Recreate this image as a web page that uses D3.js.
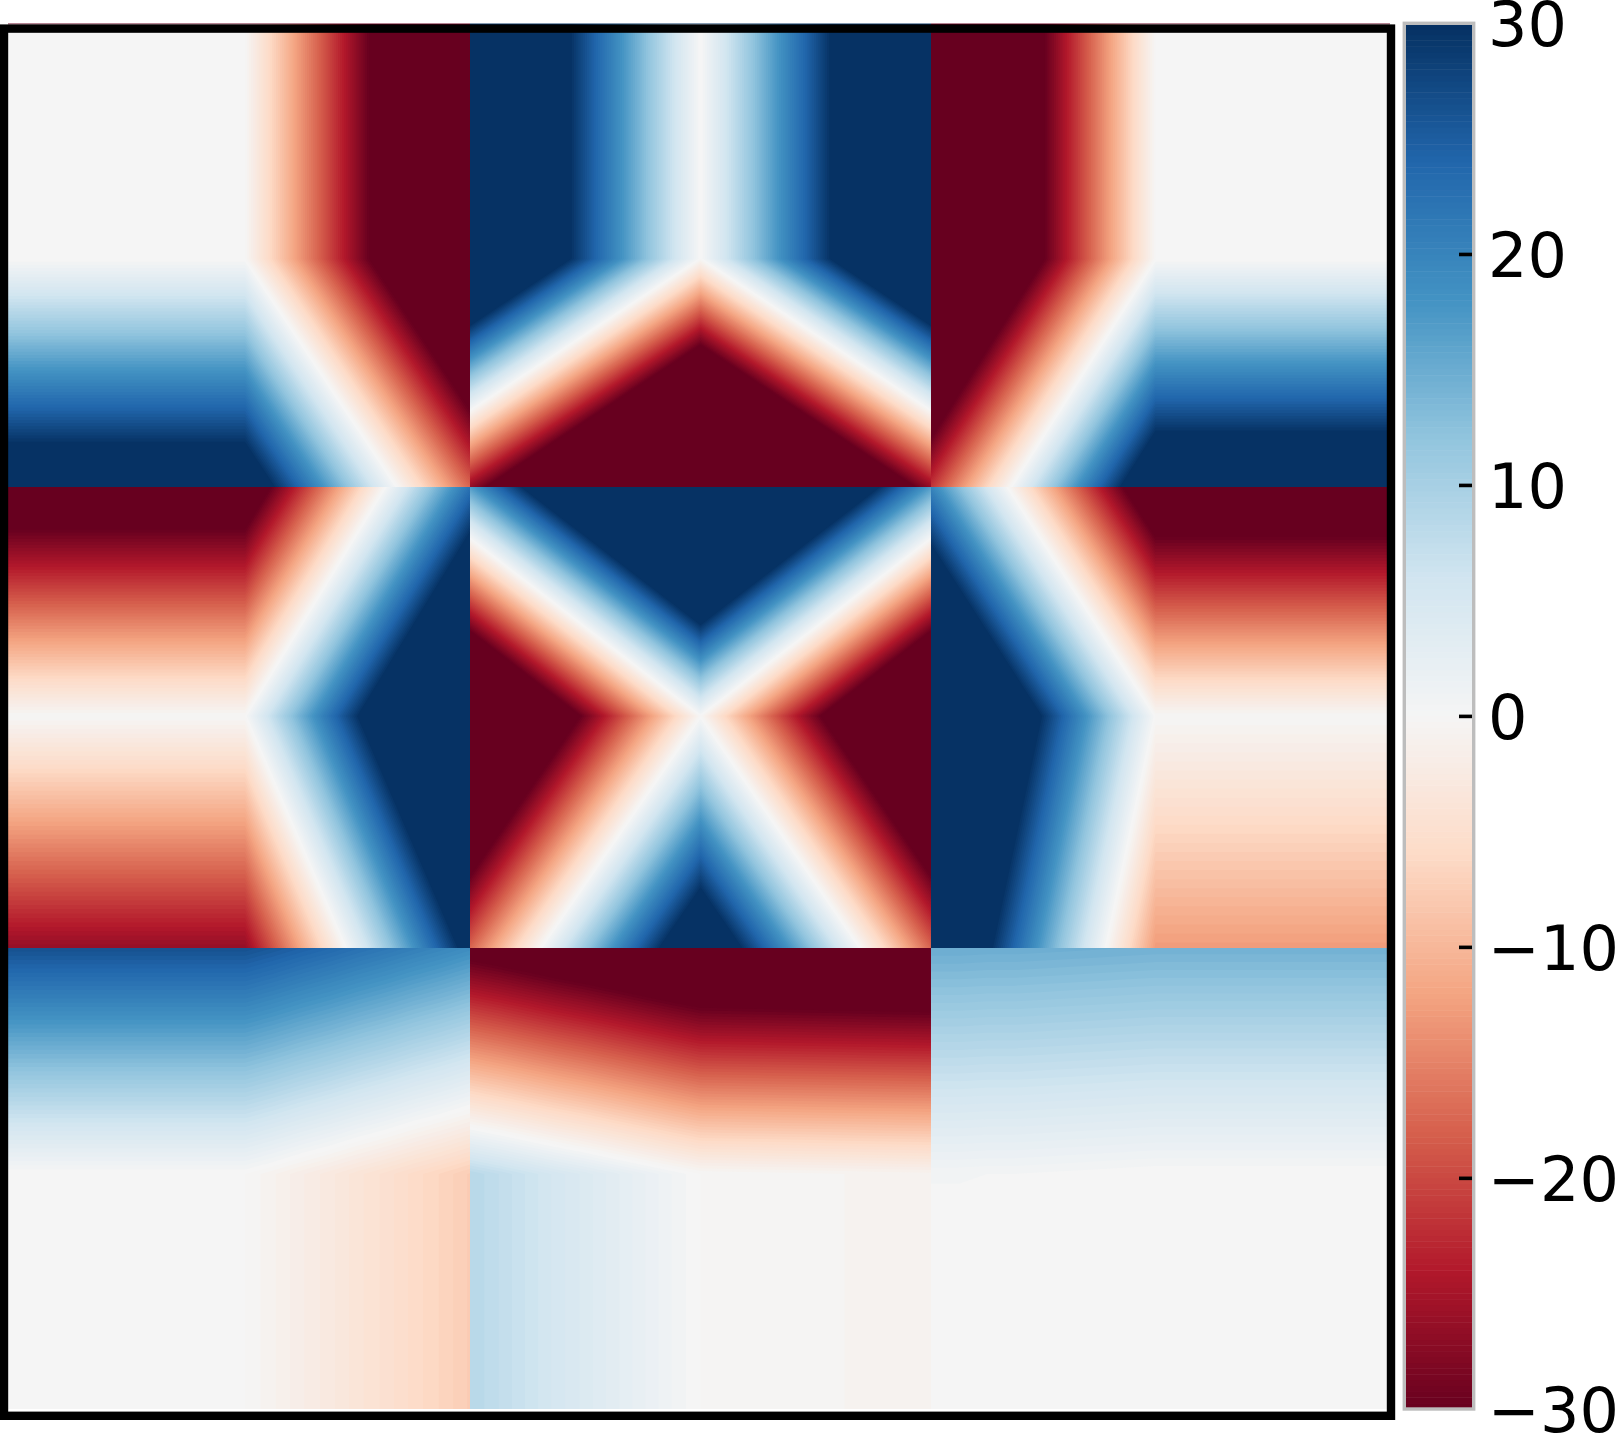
<!DOCTYPE html>
<html><head><meta charset="utf-8">
<style>html,body{margin:0;padding:0;background:#fff;overflow:hidden}svg{display:block}</style>
<script src="https://cdn.jsdelivr.net/npm/d3@7"></script>
</head><body><svg id="c" width="1618" height="1445"></svg>
<script>
// Field values, 17 x 17 samples per panel. Samples can go past the +/-30 colour limits.
const panelTL=[
[0,0,0,0,0,0,0,0,0,-6.8,-13.6,-20.4,-27.2,-34,-40.8,-47.6,-54.4],
[0,0,0,0,0,0,0,0,0,-6.8,-13.6,-20.4,-27.2,-34,-40.8,-47.6,-54.4],
[0,0,0,0,0,0,0,0,0,-6.8,-13.6,-20.4,-27.2,-34,-40.8,-47.6,-54.4],
[0,0,0,0,0,0,0,0,0,-6.8,-13.6,-20.4,-27.2,-34,-40.8,-47.6,-54.4],
[0,0,0,0,0,0,0,0,0,-6.8,-13.6,-20.4,-27.2,-34,-40.8,-47.6,-54.4],
[0,0,0,0,0,0,0,0,0,-6.8,-13.6,-20.4,-27.2,-34,-40.8,-47.6,-54.4],
[0,0,0,0,0,0,0,0,0,-6.8,-13.6,-20.4,-27.2,-34,-40.8,-47.6,-54.4],
[0,0,0,0,0,0,0,0,0,-6.8,-13.6,-20.4,-27.2,-34,-40.8,-47.6,-54.4],
[0,0,0,0,0,0,0,0,0,-6.8,-13.6,-20.4,-27.2,-34,-40.8,-47.6,-54.4],
[4.6,4.6,4.6,4.6,4.6,4.6,4.6,4.6,4.6,-2.2,-9,-15.8,-22.6,-29.4,-36.2,-43,-49.8],
[9.2,9.2,9.2,9.2,9.2,9.2,9.2,9.2,9.2,2.4,-4.4,-11.2,-18,-24.8,-31.6,-38.4,-45.2],
[13.8,13.8,13.8,13.8,13.8,13.8,13.8,13.8,13.8,7,0.2,-6.6,-13.4,-20.2,-27,-33.8,-40.6],
[18.4,18.4,18.4,18.4,18.4,18.4,18.4,18.4,18.4,11.6,4.8,-2,-8.8,-15.6,-22.4,-29.2,-36],
[23,23,23,23,23,23,23,23,23,16.2,9.4,2.6,-4.2,-11,-17.8,-24.6,-31.4],
[27.6,27.6,27.6,27.6,27.6,27.6,27.6,27.6,27.6,20.8,14,7.2,0.4,-6.4,-13.2,-20,-26.8],
[32.2,32.2,32.2,32.2,32.2,32.2,32.2,32.2,32.2,25.4,18.6,11.8,5,-1.8,-8.6,-15.4,-22.2],
[36.8,36.8,36.8,36.8,36.8,36.8,36.8,36.8,36.8,30,23.2,16.4,9.6,2.8,-4,-10.8,-17.6]];
const panelTC=[
[52.8,46.2,39.6,33,26.4,19.8,13.2,6.6,0,6.6,13.2,19.8,26.4,33,39.6,46.2,52.8],
[52.8,46.2,39.6,33,26.4,19.8,13.2,6.6,0,6.6,13.2,19.8,26.4,33,39.6,46.2,52.8],
[52.8,46.2,39.6,33,26.4,19.8,13.2,6.6,0,6.6,13.2,19.8,26.4,33,39.6,46.2,52.8],
[52.8,46.2,39.6,33,26.4,19.8,13.2,6.6,0,6.6,13.2,19.8,26.4,33,39.6,46.2,52.8],
[52.8,46.2,39.6,33,26.4,19.8,13.2,6.6,0,6.6,13.2,19.8,26.4,33,39.6,46.2,52.8],
[52.8,46.2,39.6,33,26.4,19.8,13.2,6.6,0,6.6,13.2,19.8,26.4,33,39.6,46.2,52.8],
[52.8,46.2,39.6,33,26.4,19.8,13.2,6.6,0,6.6,13.2,19.8,26.4,33,39.6,46.2,52.8],
[52.8,46.2,39.6,33,26.4,19.8,13.2,6.6,0,6.6,13.2,19.8,26.4,33,39.6,46.2,52.8],
[52.8,46.2,39.6,33,26.4,19.8,13.2,6.6,0,6.6,13.2,19.8,26.4,33,39.6,46.2,52.8],
[42.9,36.3,29.7,23.1,16.5,9.9,3.3,-3.3,-9.9,-3.3,3.3,9.9,16.5,23.1,29.7,36.3,42.9],
[33,26.4,19.8,13.2,6.6,0,-6.6,-13.2,-19.8,-13.2,-6.6,0,6.6,13.2,19.8,26.4,33],
[23.1,16.5,9.9,3.3,-3.3,-9.9,-16.5,-23.1,-29.7,-23.1,-16.5,-9.9,-3.3,3.3,9.9,16.5,23.1],
[13.2,6.6,0,-6.6,-13.2,-19.8,-26.4,-33,-39.6,-33,-26.4,-19.8,-13.2,-6.6,0,6.6,13.2],
[3.3,-3.3,-9.9,-16.5,-23.1,-29.7,-36.3,-42.9,-49.5,-42.9,-36.3,-29.7,-23.1,-16.5,-9.9,-3.3,3.3],
[-6.6,-13.2,-19.8,-26.4,-33,-39.6,-46.2,-52.8,-59.4,-52.8,-46.2,-39.6,-33,-26.4,-19.8,-13.2,-6.6],
[-16.5,-23.1,-29.7,-36.3,-42.9,-49.5,-56.1,-62.7,-69.3,-62.7,-56.1,-49.5,-42.9,-36.3,-29.7,-23.1,-16.5],
[-26.4,-33,-39.6,-46.2,-52.8,-59.4,-66,-72.6,-79.2,-72.6,-66,-59.4,-52.8,-46.2,-39.6,-33,-26.4]];
const panelTR=[
[-60.8,-53.2,-45.6,-38,-30.4,-22.8,-15.2,-7.6,0,0,0,0,0,0,0,0,0],
[-60.8,-53.2,-45.6,-38,-30.4,-22.8,-15.2,-7.6,0,0,0,0,0,0,0,0,0],
[-60.8,-53.2,-45.6,-38,-30.4,-22.8,-15.2,-7.6,0,0,0,0,0,0,0,0,0],
[-60.8,-53.2,-45.6,-38,-30.4,-22.8,-15.2,-7.6,0,0,0,0,0,0,0,0,0],
[-60.8,-53.2,-45.6,-38,-30.4,-22.8,-15.2,-7.6,0,0,0,0,0,0,0,0,0],
[-60.8,-53.2,-45.6,-38,-30.4,-22.8,-15.2,-7.6,0,0,0,0,0,0,0,0,0],
[-60.8,-53.2,-45.6,-38,-30.4,-22.8,-15.2,-7.6,0,0,0,0,0,0,0,0,0],
[-60.8,-53.2,-45.6,-38,-30.4,-22.8,-15.2,-7.6,0,0,0,0,0,0,0,0,0],
[-60.8,-53.2,-45.6,-38,-30.4,-22.8,-15.2,-7.6,0,0,0,0,0,0,0,0,0],
[-55.9,-48.3,-40.7,-33.1,-25.5,-17.9,-10.3,-2.7,4.9,4.9,4.9,4.9,4.9,4.9,4.9,4.9,4.9],
[-51,-43.4,-35.8,-28.2,-20.6,-13,-5.4,2.2,9.8,9.8,9.8,9.8,9.8,9.8,9.8,9.8,9.8],
[-46.1,-38.5,-30.9,-23.3,-15.7,-8.1,-0.5,7.1,14.7,14.7,14.7,14.7,14.7,14.7,14.7,14.7,14.7],
[-41.2,-33.6,-26,-18.4,-10.8,-3.2,4.4,12,19.6,19.6,19.6,19.6,19.6,19.6,19.6,19.6,19.6],
[-36.3,-28.7,-21.1,-13.5,-5.9,1.7,9.3,16.9,24.5,24.5,24.5,24.5,24.5,24.5,24.5,24.5,24.5],
[-31.4,-23.8,-16.2,-8.6,-1,6.6,14.2,21.8,29.4,29.4,29.4,29.4,29.4,29.4,29.4,29.4,29.4],
[-26.5,-18.9,-11.3,-3.7,3.9,11.5,19.1,26.7,34.3,34.3,34.3,34.3,34.3,34.3,34.3,34.3,34.3],
[-21.6,-14,-6.4,1.2,8.8,16.4,24,31.6,39.2,39.2,39.2,39.2,39.2,39.2,39.2,39.2,39.2]];
const panelML=[
[-36.8,-36.8,-36.8,-36.8,-36.8,-36.8,-36.8,-36.8,-36.8,-29.4,-22,-14.6,-7.2,0.2,7.6,15,22.4],
[-32.2,-32.2,-32.2,-32.2,-32.2,-32.2,-32.2,-32.2,-32.2,-24.8,-17.4,-10,-2.6,4.8,12.2,19.6,27],
[-27.6,-27.6,-27.6,-27.6,-27.6,-27.6,-27.6,-27.6,-27.6,-20.2,-12.8,-5.4,2,9.4,16.8,24.2,31.6],
[-23,-23,-23,-23,-23,-23,-23,-23,-23,-15.6,-8.2,-0.8,6.6,14,21.4,28.8,36.2],
[-18.4,-18.4,-18.4,-18.4,-18.4,-18.4,-18.4,-18.4,-18.4,-11,-3.6,3.8,11.2,18.6,26,33.4,40.8],
[-13.8,-13.8,-13.8,-13.8,-13.8,-13.8,-13.8,-13.8,-13.8,-6.4,1,8.4,15.8,23.2,30.6,38,45.4],
[-9.2,-9.2,-9.2,-9.2,-9.2,-9.2,-9.2,-9.2,-9.2,-1.8,5.6,13,20.4,27.8,35.2,42.6,50],
[-4.6,-4.6,-4.6,-4.6,-4.6,-4.6,-4.6,-4.6,-4.6,2.8,10.2,17.6,25,32.4,39.8,47.2,54.6],
[0,0,0,0,0,0,0,0,0,7.4,14.8,22.2,29.6,37,44.4,51.8,59.2],
[-3.3,-3.3,-3.3,-3.3,-3.3,-3.3,-3.3,-3.3,-3.3,4.1,11.5,18.9,26.3,33.7,41.1,48.5,55.9],
[-6.6,-6.6,-6.6,-6.6,-6.6,-6.6,-6.6,-6.6,-6.6,0.8,8.2,15.6,23,30.4,37.8,45.2,52.6],
[-9.9,-9.9,-9.9,-9.9,-9.9,-9.9,-9.9,-9.9,-9.9,-2.5,4.9,12.3,19.7,27.1,34.5,41.9,49.3],
[-13.2,-13.2,-13.2,-13.2,-13.2,-13.2,-13.2,-13.2,-13.2,-5.8,1.6,9,16.4,23.8,31.2,38.6,46],
[-16.5,-16.5,-16.5,-16.5,-16.5,-16.5,-16.5,-16.5,-16.5,-9.1,-1.7,5.7,13.1,20.5,27.9,35.3,42.7],
[-19.8,-19.8,-19.8,-19.8,-19.8,-19.8,-19.8,-19.8,-19.8,-12.4,-5,2.4,9.8,17.2,24.6,32,39.4],
[-23.1,-23.1,-23.1,-23.1,-23.1,-23.1,-23.1,-23.1,-23.1,-15.7,-8.3,-0.9,6.5,13.9,21.3,28.7,36.1],
[-26.4,-26.4,-26.4,-26.4,-26.4,-26.4,-26.4,-26.4,-26.4,-19,-11.6,-4.2,3.2,10.6,18,25.4,32.8]];
const panelMC=[
[16.8,24,31.2,38.4,45.6,52.8,60,67.2,74.4,67.2,60,52.8,45.6,38.4,31.2,24,16.8],
[7.5,14.7,21.9,29.1,36.3,43.5,50.7,57.9,65.1,57.9,50.7,43.5,36.3,29.1,21.9,14.7,7.5],
[-1.8,5.4,12.6,19.8,27,34.2,41.4,48.6,55.8,48.6,41.4,34.2,27,19.8,12.6,5.4,-1.8],
[-11.1,-3.9,3.3,10.5,17.7,24.9,32.1,39.3,46.5,39.3,32.1,24.9,17.7,10.5,3.3,-3.9,-11.1],
[-20.4,-13.2,-6,1.2,8.4,15.6,22.8,30,37.2,30,22.8,15.6,8.4,1.2,-6,-13.2,-20.4],
[-29.7,-22.5,-15.3,-8.1,-0.9,6.3,13.5,20.7,27.9,20.7,13.5,6.3,-0.9,-8.1,-15.3,-22.5,-29.7],
[-39,-31.8,-24.6,-17.4,-10.2,-3,4.2,11.4,18.6,11.4,4.2,-3,-10.2,-17.4,-24.6,-31.8,-39],
[-48.3,-41.1,-33.9,-26.7,-19.5,-12.3,-5.1,2.1,9.3,2.1,-5.1,-12.3,-19.5,-26.7,-33.9,-41.1,-48.3],
[-57.6,-50.4,-43.2,-36,-28.8,-21.6,-14.4,-7.2,0,-7.2,-14.4,-21.6,-28.8,-36,-43.2,-50.4,-57.6],
[-52.6,-45.4,-38.2,-31,-23.8,-16.6,-9.4,-2.2,5,-2.2,-9.4,-16.6,-23.8,-31,-38.2,-45.4,-52.6],
[-47.6,-40.4,-33.2,-26,-18.8,-11.6,-4.4,2.8,10,2.8,-4.4,-11.6,-18.8,-26,-33.2,-40.4,-47.6],
[-42.6,-35.4,-28.2,-21,-13.8,-6.6,0.6,7.8,15,7.8,0.6,-6.6,-13.8,-21,-28.2,-35.4,-42.6],
[-37.6,-30.4,-23.2,-16,-8.8,-1.6,5.6,12.8,20,12.8,5.6,-1.6,-8.8,-16,-23.2,-30.4,-37.6],
[-32.6,-25.4,-18.2,-11,-3.8,3.4,10.6,17.8,25,17.8,10.6,3.4,-3.8,-11,-18.2,-25.4,-32.6],
[-27.6,-20.4,-13.2,-6,1.2,8.4,15.6,22.8,30,22.8,15.6,8.4,1.2,-6,-13.2,-20.4,-27.6],
[-22.6,-15.4,-8.2,-1,6.2,13.4,20.6,27.8,35,27.8,20.6,13.4,6.2,-1,-8.2,-15.4,-22.6],
[-17.6,-10.4,-3.2,4,11.2,18.4,25.6,32.8,40,32.8,25.6,18.4,11.2,4,-3.2,-10.4,-17.6]];
const panelMR=[
[20,12.7,5.4,-1.9,-9.2,-16.5,-23.8,-31.1,-38.4,-38.4,-38.4,-38.4,-38.4,-38.4,-38.4,-38.4,-38.4],
[24.8,17.5,10.2,2.9,-4.4,-11.7,-19,-26.3,-33.6,-33.6,-33.6,-33.6,-33.6,-33.6,-33.6,-33.6,-33.6],
[29.6,22.3,15,7.7,0.4,-6.9,-14.2,-21.5,-28.8,-28.8,-28.8,-28.8,-28.8,-28.8,-28.8,-28.8,-28.8],
[34.4,27.1,19.8,12.5,5.2,-2.1,-9.4,-16.7,-24,-24,-24,-24,-24,-24,-24,-24,-24],
[39.2,31.9,24.6,17.3,10,2.7,-4.6,-11.9,-19.2,-19.2,-19.2,-19.2,-19.2,-19.2,-19.2,-19.2,-19.2],
[44,36.7,29.4,22.1,14.8,7.5,0.2,-7.1,-14.4,-14.4,-14.4,-14.4,-14.4,-14.4,-14.4,-14.4,-14.4],
[48.8,41.5,34.2,26.9,19.6,12.3,5,-2.3,-9.6,-9.6,-9.6,-9.6,-9.6,-9.6,-9.6,-9.6,-9.6],
[53.6,46.3,39,31.7,24.4,17.1,9.8,2.5,-4.8,-4.8,-4.8,-4.8,-4.8,-4.8,-4.8,-4.8,-4.8],
[58.4,51.1,43.8,36.5,29.2,21.9,14.6,7.3,0,0,0,0,0,0,0,0,0],
[56.8,49.5,42.2,34.9,27.6,20.3,13,5.7,-1.6,-1.6,-1.6,-1.6,-1.6,-1.6,-1.6,-1.6,-1.6],
[55.2,47.9,40.6,33.3,26,18.7,11.4,4.1,-3.2,-3.2,-3.2,-3.2,-3.2,-3.2,-3.2,-3.2,-3.2],
[53.6,46.3,39,31.7,24.4,17.1,9.8,2.5,-4.8,-4.8,-4.8,-4.8,-4.8,-4.8,-4.8,-4.8,-4.8],
[52,44.7,37.4,30.1,22.8,15.5,8.2,0.9,-6.4,-6.4,-6.4,-6.4,-6.4,-6.4,-6.4,-6.4,-6.4],
[50.4,43.1,35.8,28.5,21.2,13.9,6.6,-0.7,-8,-8,-8,-8,-8,-8,-8,-8,-8],
[48.8,41.5,34.2,26.9,19.6,12.3,5,-2.3,-9.6,-9.6,-9.6,-9.6,-9.6,-9.6,-9.6,-9.6,-9.6],
[47.2,39.9,32.6,25.3,18,10.7,3.4,-3.9,-11.2,-11.2,-11.2,-11.2,-11.2,-11.2,-11.2,-11.2,-11.2],
[45.6,38.3,31,23.7,16.4,9.1,1.8,-5.5,-12.8,-12.8,-12.8,-12.8,-12.8,-12.8,-12.8,-12.8,-12.8]];
const panelBL=[
[26.4,26.4,26.4,26.4,26.4,26.4,26.4,26.4,26.4,25.5,24.5,23.6,22.6,21.7,20.7,19.8,18.8],
[23.1,23.1,23.1,23.1,23.1,23.1,23.1,23.1,23.1,22.2,21.2,20.3,19.3,18.4,17.4,16.5,15.5],
[19.8,19.8,19.8,19.8,19.8,19.8,19.8,19.8,19.8,18.9,17.9,17,16,15.1,14.1,13.2,12.2],
[16.5,16.5,16.5,16.5,16.5,16.5,16.5,16.5,16.5,15.6,14.6,13.7,12.7,11.8,10.8,9.9,8.9],
[13.2,13.2,13.2,13.2,13.2,13.2,13.2,13.2,13.2,12.3,11.3,10.4,9.4,8.5,7.5,6.6,5.6],
[9.9,9.9,9.9,9.9,9.9,9.9,9.9,9.9,9.9,9,8,7.1,6.1,5.2,4.2,3.3,2.3],
[6.6,6.6,6.6,6.6,6.6,6.6,6.6,6.6,6.6,5.7,4.7,3.8,2.8,1.9,0.9,0,-1],
[3.3,3.3,3.3,3.3,3.3,3.3,3.3,3.3,3.3,2.4,1.4,0.5,-0.5,-1.4,-2.4,-3.3,-4.3],
[0,0,0,0,0,0,0,0,0,-0.9,-1.9,-2.8,-3.8,-4.7,-5.7,-6.6,-7.6],
[0,0,0,0,0,0,0,0,0,-0.9,-1.9,-2.8,-3.8,-4.7,-5.7,-6.6,-7.6],
[0,0,0,0,0,0,0,0,0,-0.9,-1.9,-2.8,-3.8,-4.7,-5.7,-6.6,-7.6],
[0,0,0,0,0,0,0,0,0,-0.9,-1.9,-2.8,-3.8,-4.7,-5.7,-6.6,-7.6],
[0,0,0,0,0,0,0,0,0,-0.9,-1.9,-2.8,-3.8,-4.7,-5.7,-6.6,-7.6],
[0,0,0,0,0,0,0,0,0,-0.9,-1.9,-2.8,-3.8,-4.7,-5.7,-6.6,-7.6],
[0,0,0,0,0,0,0,0,0,-0.9,-1.9,-2.8,-3.8,-4.7,-5.7,-6.6,-7.6],
[0,0,0,0,0,0,0,0,0,-0.9,-1.9,-2.8,-3.8,-4.7,-5.7,-6.6,-7.6],
[0,0,0,0,0,0,0,0,0,-0.9,-1.9,-2.8,-3.8,-4.7,-5.7,-6.6,-7.6]];
const panelBC=[
[-32.3,-33.3,-34.4,-35.5,-36.5,-37.6,-38.7,-39.8,-40.8,-40.9,-41,-41.1,-41.2,-41.3,-41.4,-41.5,-41.6],
[-27.2,-28.2,-29.3,-30.4,-31.4,-32.5,-33.6,-34.7,-35.7,-35.8,-35.9,-36,-36.1,-36.2,-36.3,-36.4,-36.5],
[-22.1,-23.1,-24.2,-25.3,-26.3,-27.4,-28.5,-29.6,-30.6,-30.7,-30.8,-30.9,-31,-31.1,-31.2,-31.3,-31.4],
[-17,-18,-19.1,-20.2,-21.2,-22.3,-23.4,-24.5,-25.5,-25.6,-25.7,-25.8,-25.9,-26,-26.1,-26.2,-26.3],
[-11.9,-12.9,-14,-15.1,-16.1,-17.2,-18.3,-19.4,-20.4,-20.5,-20.6,-20.7,-20.8,-20.9,-21,-21.1,-21.2],
[-6.8,-7.8,-8.9,-10,-11,-12.1,-13.2,-14.3,-15.3,-15.4,-15.5,-15.6,-15.7,-15.8,-15.9,-16,-16.1],
[-1.7,-2.7,-3.8,-4.9,-5.9,-7,-8.1,-9.2,-10.2,-10.3,-10.4,-10.5,-10.6,-10.7,-10.8,-10.9,-11],
[3.4,2.4,1.3,0.2,-0.8,-1.9,-3,-4.1,-5.1,-5.2,-5.3,-5.4,-5.5,-5.6,-5.7,-5.8,-5.9],
[8.5,7.5,6.4,5.3,4.3,3.2,2.1,1,0,-0.1,-0.2,-0.3,-0.4,-0.5,-0.6,-0.7,-0.8],
[8.5,7.5,6.4,5.3,4.3,3.2,2.1,1,0,-0.1,-0.2,-0.3,-0.4,-0.5,-0.6,-0.7,-0.8],
[8.5,7.5,6.4,5.3,4.3,3.2,2.1,1,0,-0.1,-0.2,-0.3,-0.4,-0.5,-0.6,-0.7,-0.8],
[8.5,7.5,6.4,5.3,4.3,3.2,2.1,1,0,-0.1,-0.2,-0.3,-0.4,-0.5,-0.6,-0.7,-0.8],
[8.5,7.5,6.4,5.3,4.3,3.2,2.1,1,0,-0.1,-0.2,-0.3,-0.4,-0.5,-0.6,-0.7,-0.8],
[8.5,7.5,6.4,5.3,4.3,3.2,2.1,1,0,-0.1,-0.2,-0.3,-0.4,-0.5,-0.6,-0.7,-0.8],
[8.5,7.5,6.4,5.3,4.3,3.2,2.1,1,0,-0.1,-0.2,-0.3,-0.4,-0.5,-0.6,-0.7,-0.8],
[8.5,7.5,6.4,5.3,4.3,3.2,2.1,1,0,-0.1,-0.2,-0.3,-0.4,-0.5,-0.6,-0.7,-0.8],
[8.5,7.5,6.4,5.3,4.3,3.2,2.1,1,0,-0.1,-0.2,-0.3,-0.4,-0.5,-0.6,-0.7,-0.8]];
const panelBR=[
[15,15,14.9,14.9,14.8,14.7,14.6,14.5,14.4,14.4,14.4,14.4,14.4,14.4,14.4,14.4,14.4],
[13.2,13.2,13.1,13.1,13,12.9,12.8,12.7,12.6,12.6,12.6,12.6,12.6,12.6,12.6,12.6,12.6],
[11.4,11.4,11.3,11.3,11.2,11.1,11,10.9,10.8,10.8,10.8,10.8,10.8,10.8,10.8,10.8,10.8],
[9.6,9.6,9.5,9.5,9.4,9.3,9.2,9.1,9,9,9,9,9,9,9,9,9],
[7.8,7.8,7.7,7.7,7.6,7.5,7.4,7.3,7.2,7.2,7.2,7.2,7.2,7.2,7.2,7.2,7.2],
[6,6,5.9,5.9,5.8,5.7,5.6,5.5,5.4,5.4,5.4,5.4,5.4,5.4,5.4,5.4,5.4],
[4.2,4.2,4.1,4.1,4,3.9,3.8,3.7,3.6,3.6,3.6,3.6,3.6,3.6,3.6,3.6,3.6],
[2.4,2.4,2.3,2.3,2.2,2.1,2,1.9,1.8,1.8,1.8,1.8,1.8,1.8,1.8,1.8,1.8],
[0.6,0.6,0.5,0.5,0.4,0.3,0.2,0.1,0,0,0,0,0,0,0,0,0],
[0.3,0.3,0.3,0.3,0.3,0,0,0,0,0,0,0,0,0,0,0,0],
[0.3,0.3,0.3,0.3,0.3,0,0,0,0,0,0,0,0,0,0,0,0],
[0.3,0.3,0.3,0.3,0.3,0,0,0,0,0,0,0,0,0,0,0,0],
[0.3,0.3,0.3,0.3,0.3,0,0,0,0,0,0,0,0,0,0,0,0],
[0.3,0.3,0.3,0.3,0.3,0,0,0,0,0,0,0,0,0,0,0,0],
[0.3,0.3,0.3,0.3,0.3,0,0,0,0,0,0,0,0,0,0,0,0],
[0.3,0.3,0.3,0.3,0.3,0,0,0,0,0,0,0,0,0,0,0,0],
[0.3,0.3,0.3,0.3,0.3,0,0,0,0,0,0,0,0,0,0,0,0]];
const panelRows=[[panelTL,panelTC,panelTR],[panelML,panelMC,panelMR],[panelBL,panelBC,panelBR]];
// colour map stops and colour bar ticks
const colorDomain=[-30,-24,-18,-12,-6,0,6,12,18,24,30];
const colorStops=["#67001f","#b2182b","#d6604d","#f4a582","#fddbc7","#f5f5f5","#d1e5f0","#92c5de","#4393c3","#2166ac","#053061"];
const barTicks=[-30,-20,-10,0,10,20,30];
// where the panels and the sample kink (sample 8) sit on the page
const colEdges=[8,470,931,1392], rowEdges=[24,487,948,1409];
const colKinks=[0.513,0.5,0.487], rowKinks=[0.507,0.497,0.49];

const color=d3.scaleLinear().domain(colorDomain).range(colorStops).interpolate(d3.interpolateRgb).clamp(true);
const svg=d3.select("#c");
const defs=svg.append("defs");
const thresholds=d3.range(-30,30,0.5);
const N=17;
const contours=d3.contours().size([N,N]).thresholds(thresholds);
const plot=svg.append("g");

panelRows.forEach((row,r)=>row.forEach((panel,c)=>{
  const x0=colEdges[c],x1=colEdges[c+1],y0=rowEdges[r],y1=rowEdges[r+1];
  const xs=d3.scaleLinear().domain([0.5,8.5,16.5]).range([x0,x0+colKinks[c]*(x1-x0),x1]);
  const ys=d3.scaleLinear().domain([0.5,8.5,16.5]).range([y0,y0+rowKinks[r]*(y1-y0),y1]);
  const id=`clip${r}${c}`;
  defs.append("clipPath").attr("id",id).append("rect").attr("x",x0).attr("y",y0).attr("width",x1-x0).attr("height",y1-y0);
  const g=plot.append("g").attr("clip-path",`url(#${id})`);
  g.append("rect").attr("x",x0).attr("y",y0).attr("width",x1-x0).attr("height",y1-y0).attr("fill",color(-30));
  const path=d3.geoPath(d3.geoTransform({point(px,py){this.stream.point(xs(px),ys(py));}}));
  g.selectAll("path").data(contours(panel.flat()).filter(d=>d.coordinates.length)).join("path")
    .attr("d",path).attr("fill",d=>d.value===0?color(0):color(d.value+0.25));
}));

// thin sliver of image showing above the frame
const sliver=[-30,30,-30];
svg.selectAll("rect.sliver").data(sliver).join("rect").attr("class","sliver")
  .attr("x",(d,i)=>colEdges[i]).attr("y",23.2).attr("width",(d,i)=>colEdges[i+1]-colEdges[i]-(i==2?2:0)).attr("height",1.4)
  .attr("fill",d=>color(d)).attr("opacity",0.6);

// frame
svg.append("rect").attr("x",4).attr("y",28.6).attr("width",1387).attr("height",1387.2)
  .attr("fill","none").attr("stroke","#000").attr("stroke-width",8.4);

// colour bar
const barY=d3.scaleLinear().domain([-30,30]).range([1408.8,23]);
const barG=svg.append("g");
const barSteps=d3.range(-30,30,0.25);
barG.selectAll("rect").data(barSteps).join("rect")
  .attr("x",1406).attr("width",66)
  .attr("y",d=>barY(d+0.25)).attr("height",d=>barY(d)-barY(d+0.25)+0.5)
  .attr("fill",d=>color(d+0.125));
svg.append("rect").attr("x",1404.3).attr("y",23.3).attr("width",69.4).attr("height",1385.7)
  .attr("fill","none").attr("stroke","#bdbdbd").attr("stroke-width",3.4);
const axis=d3.axisRight(barY).tickValues(barTicks).tickSize(-13).tickPadding(16);
const ag=svg.append("g").attr("transform","translate(1472,0)").call(axis);
ag.select(".domain").remove();
ag.selectAll(".tick line").attr("stroke","#000").attr("stroke-width",3.6)
  .attr("opacity",d=>Math.abs(d)===30?0:1);
ag.selectAll(".tick text").attr("fill","#000").attr("dy","0.36em")
  .style("font-family","'DejaVu Sans'").style("font-size","62px");
</script></body></html>
